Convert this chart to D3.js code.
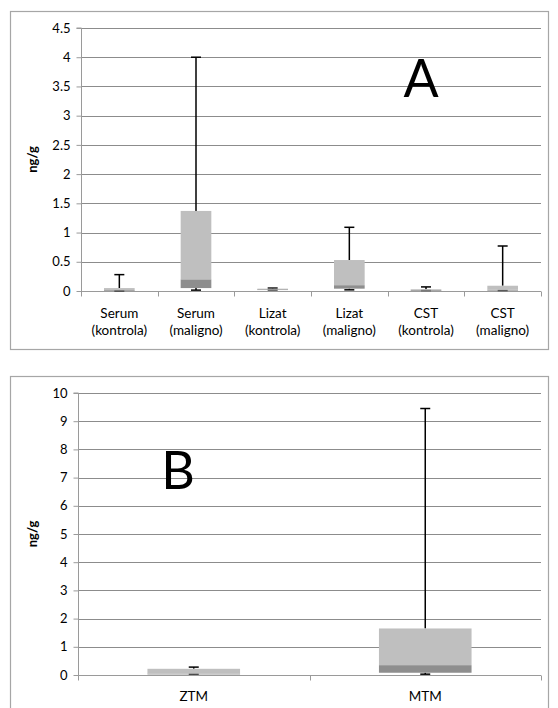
<!DOCTYPE html>
<html><head><meta charset="utf-8">
<script src="https://cdn.jsdelivr.net/npm/d3@7"></script>
<style>body{margin:0;background:#fff}svg{display:block}text{font-family:Lato,"Open Sans",sans-serif}</style>
</head><body><svg id="c" width="558" height="708"></svg>
<script>
// Panel A data
const catsA = ["Serum (kontrola)","Serum (maligno)","Lizat (kontrola)","Lizat (maligno)","CST (kontrola)","CST (maligno)"];
const minA = [0.005, 0.015, 0.02, 0.02, 0.01, 0.01];
const q1A  = [0.01, 0.05, 0.02, 0.04, 0.01, 0.01];
const medA = [0.015, 0.2, 0.03, 0.1, 0.015, 0.02];
const q3A  = [0.05, 1.37, 0.04, 0.53, 0.03, 0.09];
const maxA = [0.28, 4.0, 0.05, 1.09, 0.07, 0.77];
const ticksA = [0,0.5,1,1.5,2,2.5,3,3.5,4,4.5];
// Panel B data
const catsB = ["ZTM","MTM"];
const minB = [0.03, 0.03];
const q1B  = [0.02, 0.08];
const medB = [0.05, 0.35];
const q3B  = [0.22, 1.65];
const maxB = [0.28, 9.45];
const ticksB = [0,1,2,3,4,5,6,7,8,9,10];

const svg = d3.select("#c");
const light = "#bfbfbf", dark = "#8e8e8e", grid = "#8c8c8c", axisC = "#9a9a9a";

function panel(o){
  const g = svg.append("g");
  g.append("rect").attr("x",o.bx+0.5).attr("y",o.by+0.5).attr("width",o.bw).attr("height",o.bh)
    .attr("fill","none").attr("stroke","#a6a6a6").attr("stroke-width",1.2);
  const y = d3.scaleLinear().domain([0,o.ymax]).range([o.y0,o.y1]);
  const x = d3.scaleBand().domain(o.cats).range([o.x0,o.x1]).paddingInner(0).paddingOuter(0);
  g.selectAll(".gl").data(o.ticks.filter(t=>t>0)).enter().append("line")
    .attr("x1",o.x0).attr("x2",o.x1).attr("y1",d=>Math.round(y(d))+0.5).attr("y2",d=>Math.round(y(d))+0.5)
    .attr("stroke",grid).attr("stroke-width",1);
  const ya = g.append("g").attr("transform",`translate(${o.x0+0.5},0)`)
    .call(d3.axisLeft(y).tickValues(o.ticks).tickSize(5).tickPadding(6).tickFormat(d=>String(d)));
  ya.select(".domain").attr("stroke",axisC).attr("d",`M-5,${o.y1}H0V${o.y0}`);
  ya.selectAll(".tick line").attr("stroke",axisC);
  ya.selectAll(".tick text").attr("font-size",13).attr("fill","#000").attr("font-family","Lato,'Open Sans',sans-serif");
  const xa = g.append("g").attr("transform",`translate(0,${Math.round(y(0))+0.5})`);
  xa.append("line").attr("x1",o.x0).attr("x2",o.x1).attr("stroke",axisC);
  const bounds = o.cats.map(c=>x(c)).concat([o.x1]);
  xa.selectAll(".tk").data(bounds).enter().append("line")
    .attr("x1",d=>Math.round(d)+0.5).attr("x2",d=>Math.round(d)+0.5).attr("y1",0).attr("y2",5).attr("stroke",axisC);
  o.cats.forEach((c,i)=>{
    const cx = x(c)+x.bandwidth()/2;
    const parts = o.split ? [c.split(" ")[0], c.split(" ").slice(1).join(" ")] : [c];
    const t = xa.append("text").attr("x",cx).attr("y",o.labelY).attr("text-anchor","middle").attr("font-size",13.5).attr("fill","#000");
    parts.forEach((p,j)=>t.append("tspan").attr("x",cx).attr("dy",j===0?0:17).text(p));
  });
  const bw = x.bandwidth()*o.boxFrac;
  o.cats.forEach((c,i)=>{
    const cx = x(c)+x.bandwidth()/2;
    const wl = (a,b)=>{
      g.append("line").attr("x1",cx).attr("x2",cx).attr("y1",y(a)).attr("y2",y(b)).attr("stroke","#000").attr("stroke-width",1.5);
      g.append("line").attr("x1",cx-5).attr("x2",cx+5).attr("y1",y(b)).attr("y2",y(b)).attr("stroke","#000").attr("stroke-width",1.5);
    };
    wl(o.q3[i],o.max[i]);
    wl(o.q1[i],o.min[i]);
    g.append("rect").attr("x",cx-bw/2).attr("width",bw).attr("y",y(o.med[i])).attr("height",Math.max(0.8,y(o.q1[i])-y(o.med[i]))).attr("fill",dark);
    g.append("rect").attr("x",cx-bw/2).attr("width",bw).attr("y",y(o.q3[i])).attr("height",Math.max(0.8,y(o.med[i])-y(o.q3[i]))).attr("fill",light);
  });
  g.append("text").attr("transform",`translate(${o.titleX},${(o.y0+o.y1)/2}) rotate(-90)`).attr("text-anchor","middle")
    .attr("font-size",13).attr("font-weight","bold").text("ng/g");
  g.append("text").attr("x",o.letterX).attr("y",o.letterY).attr("text-anchor","middle").attr("font-size",52).text(o.letter);
}

panel({bx:10,by:11,bw:538,bh:338,cats:catsA,min:minA,q1:q1A,med:medA,q3:q3A,max:maxA,ticks:ticksA,ymax:4.5,
  x0:81,x1:541,y0:291,y1:28,boxFrac:0.4,split:true,labelY:26,titleX:37,letter:"A",letterX:421,letterY:97});
panel({bx:10,by:376,bw:538,bh:340,cats:catsB,min:minB,q1:q1B,med:medB,q3:q3B,max:maxB,ticks:ticksB,ymax:10,
  x0:78,x1:541,y0:675,y1:393,boxFrac:0.4,split:false,labelY:25,titleX:37,letter:"B",letterX:178,letterY:489});
</script></body></html>
